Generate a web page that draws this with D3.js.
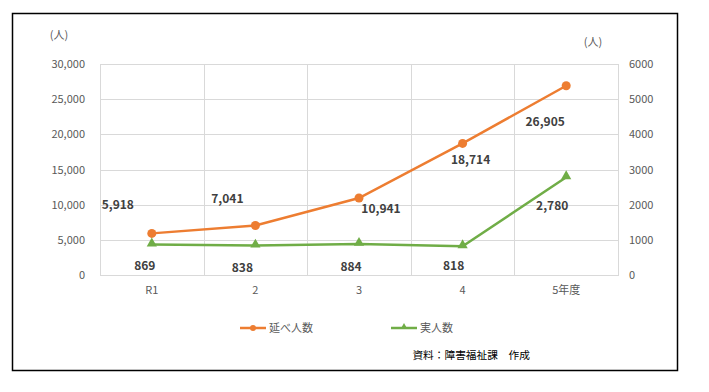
<!DOCTYPE html>
<html lang="ja">
<head>
<meta charset="utf-8">
<title>延べ人数・実人数</title>
<script src="https://d3js.org/d3.v7.min.js"></script>
<style>
  body { margin: 0; background: #fff; }
  text { font-family: "Noto Sans CJK JP", "Noto Sans", sans-serif; }
</style>
</head>
<body>
<div id="chart"></div>
<script>
var years = ["R1", "2", "3", "4", "5年度"];
var totalVisits = [5918, 7041, 10941, 18714, 26905];   // 延べ人数 (left axis)
var actualPeople = [869, 838, 884, 818, 2780];         // 実人数 (right axis)
var leftTicks = [0, 5000, 10000, 15000, 20000, 25000, 30000];
var rightTicks = [0, 1000, 2000, 3000, 4000, 5000, 6000];

var w = 709, h = 392;
var orange = "#ED7D31", green = "#70AD47";

var svg = d3.select("#chart").append("svg")
  .attr("width", w).attr("height", h);

// outer frame
svg.append("rect")
  .attr("x", 12.5).attr("y", 13.5)
  .attr("width", 665).attr("height", 357)
  .attr("fill", "none").attr("stroke", "#000").attr("stroke-width", 1.5);

var x = d3.scaleBand().domain(years).range([100, 618]);
var yL = d3.scaleLinear().domain([0, 30000]).range([275, 64]);
var yR = d3.scaleLinear().domain([0, 6000]).range([275, 64]);

// horizontal grid
svg.selectAll("line.hgrid")
  .data(leftTicks)
  .enter().append("line")
  .attr("x1", 100).attr("x2", 618)
  .attr("y1", function(d) { return Math.round(yL(d)) + 0.5; })
  .attr("y2", function(d) { return Math.round(yL(d)) + 0.5; })
  .attr("stroke", "#d9d9d9");

// vertical grid at category boundaries
var bounds = years.map(function(d) { return x(d); }).concat([x.range()[1]]);
svg.selectAll("line.vgrid")
  .data(bounds)
  .enter().append("line")
  .attr("x1", function(d) { return Math.round(d) + 0.5; })
  .attr("x2", function(d) { return Math.round(d) + 0.5; })
  .attr("y1", 64).attr("y2", 276)
  .attr("stroke", "#d9d9d9");

// left axis labels
svg.selectAll("text.yl")
  .data(leftTicks)
  .enter().append("text")
  .attr("x", 85).attr("y", function(d) { return yL(d) + 4; })
  .attr("text-anchor", "end")
  .attr("font-size", "11px").attr("fill", "#595959")
  .text(function(d) { return d3.format(",")(d); });

// right axis labels
svg.selectAll("text.yr")
  .data(rightTicks)
  .enter().append("text")
  .attr("x", 629).attr("y", function(d) { return yR(d) + 4; })
  .attr("font-size", "11px").attr("fill", "#595959")
  .text(function(d) { return d; });

// category labels
svg.selectAll("text.cat")
  .data(years)
  .enter().append("text")
  .attr("x", function(d) { return x(d) + x.bandwidth() / 2; })
  .attr("y", 294)
  .attr("text-anchor", "middle")
  .attr("font-size", "11px").attr("fill", "#595959")
  .text(function(d) { return d; });

// unit labels
svg.append("text").attr("x", 59).attr("y", 39).attr("text-anchor", "middle")
  .attr("font-size", "11px").attr("fill", "#595959").text("(人)");
svg.append("text").attr("x", 593).attr("y", 46).attr("text-anchor", "middle")
  .attr("font-size", "11px").attr("fill", "#595959").text("(人)");

function cx(i) { return x(years[i]) + x.bandwidth() / 2; }

// orange series
var lineL = d3.line()
  .x(function(d, i) { return cx(i); })
  .y(function(d) { return yL(d); });
svg.append("path").datum(totalVisits)
  .attr("d", lineL).attr("fill", "none")
  .attr("stroke", orange).attr("stroke-width", 2.5);
svg.selectAll("circle.pt")
  .data(totalVisits)
  .enter().append("circle")
  .attr("cx", function(d, i) { return cx(i); })
  .attr("cy", function(d) { return yL(d); })
  .attr("r", 4.5).attr("fill", orange);

// green series
var lineR = d3.line()
  .x(function(d, i) { return cx(i); })
  .y(function(d) { return yR(d); });
svg.append("path").datum(actualPeople)
  .attr("d", lineR).attr("fill", "none")
  .attr("stroke", green).attr("stroke-width", 2.5);
var tri = d3.symbol().type(d3.symbolTriangle).size(45);
svg.selectAll("path.tri")
  .data(actualPeople)
  .enter().append("path")
  .attr("d", tri)
  .attr("transform", function(d, i) { return "translate(" + cx(i) + "," + (yR(d) - 1) + ")"; })
  .attr("fill", green);

// data labels (offsets from the point)
var offL = [[-34, -24], [-28, -22], [22, 15], [8, 21], [-21, 40]];
var offR = [[-7, 26], [-13, 26], [-8, 27], [-9, 24], [-14, 33]];
svg.selectAll("text.lblL")
  .data(totalVisits)
  .enter().append("text")
  .attr("x", function(d, i) { return cx(i) + offL[i][0]; })
  .attr("y", function(d, i) { return yL(d) + offL[i][1]; })
  .attr("text-anchor", "middle")
  .attr("font-size", "12px").attr("font-weight", "bold").attr("fill", "#404040")
  .text(function(d) { return d3.format(",")(d); });
svg.selectAll("text.lblR")
  .data(actualPeople)
  .enter().append("text")
  .attr("x", function(d, i) { return cx(i) + offR[i][0]; })
  .attr("y", function(d, i) { return yR(d) + offR[i][1]; })
  .attr("text-anchor", "middle")
  .attr("font-size", "12px").attr("font-weight", "bold").attr("fill", "#404040")
  .text(function(d) { return d3.format(",")(d); });

// legend
var legend = [
  { name: "延べ人数", color: orange, x: 240, mark: "circle" },
  { name: "実人数", color: green, x: 391, mark: "tri" }
];
legend.forEach(function(l) {
  svg.append("line").attr("x1", l.x).attr("x2", l.x + 26)
    .attr("y1", 328).attr("y2", 328)
    .attr("stroke", l.color).attr("stroke-width", 2.5);
  if (l.mark === "circle") {
    svg.append("circle").attr("cx", l.x + 13).attr("cy", 328).attr("r", 3).attr("fill", l.color);
  } else {
    svg.append("path").attr("d", d3.symbol().type(d3.symbolTriangle).size(20))
      .attr("transform", "translate(" + (l.x + 13) + ",327)").attr("fill", l.color);
  }
  svg.append("text").attr("x", l.x + 29).attr("y", 332)
    .attr("font-size", "11px").attr("fill", "#595959").text(l.name);
});

// source note
svg.append("text").attr("x", 530).attr("y", 359).attr("text-anchor", "end")
  .attr("font-size", "10.7px").attr("fill", "#000").text("資料：障害福祉課　作成");
</script>
</body>
</html>
